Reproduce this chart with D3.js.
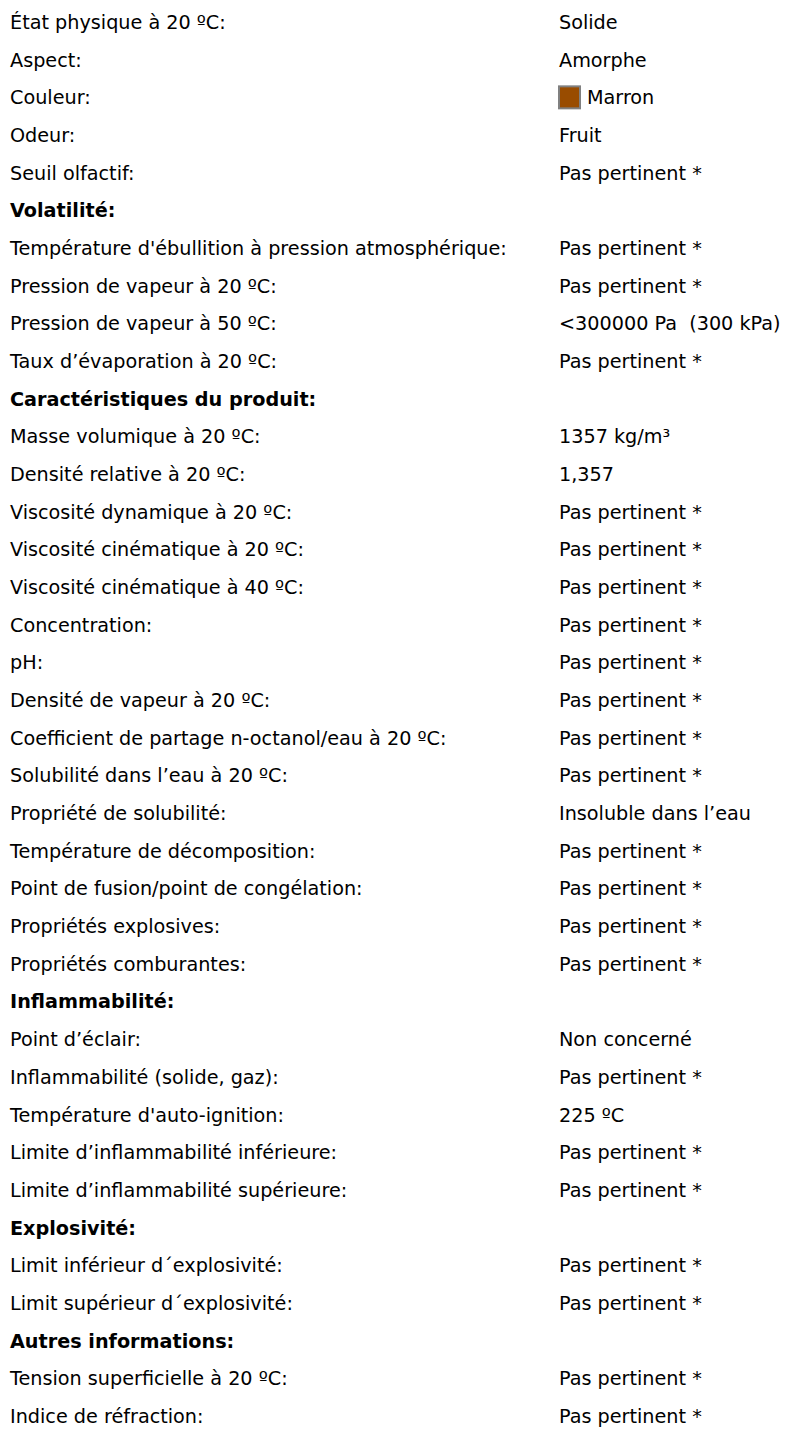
<!DOCTYPE html>
<html>
<head>
<meta charset="utf-8">
<script src="https://cdn.jsdelivr.net/npm/d3@7"></script>
<style>
  html, body { margin: 0; padding: 0; background: #fff; }
  svg { display: block; }
</style>
</head>
<body>
<svg id="chart" width="787" height="1434"></svg>
<script>
const labels = [
  "État physique à 20 ºC:",
  "Aspect:",
  "Couleur:",
  "Odeur:",
  "Seuil olfactif:",
  "Volatilité:",
  "Température d'ébullition à pression atmosphérique:",
  "Pression de vapeur à 20 ºC:",
  "Pression de vapeur à 50 ºC:",
  "Taux d’évaporation à 20 ºC:",
  "Caractéristiques du produit:",
  "Masse volumique à 20 ºC:",
  "Densité relative à 20 ºC:",
  "Viscosité dynamique à 20 ºC:",
  "Viscosité cinématique à 20 ºC:",
  "Viscosité cinématique à 40 ºC:",
  "Concentration:",
  "pH:",
  "Densité de vapeur à 20 ºC:",
  "Coefficient de partage n-octanol/eau à 20 ºC:",
  "Solubilité dans l’eau à 20 ºC:",
  "Propriété de solubilité:",
  "Température de décomposition:",
  "Point de fusion/point de congélation:",
  "Propriétés explosives:",
  "Propriétés comburantes:",
  "Inflammabilité:",
  "Point d’éclair:",
  "Inflammabilité (solide, gaz):",
  "Température d'auto-ignition:",
  "Limite d’inflammabilité inférieure:",
  "Limite d’inflammabilité supérieure:",
  "Explosivité:",
  "Limit inférieur d´explosivité:",
  "Limit supérieur d´explosivité:",
  "Autres informations:",
  "Tension superficielle à 20 ºC:",
  "Indice de réfraction:"
];
const values = [
  "Solide", "Amorphe", "Marron", "Fruit", "Pas pertinent *",
  "",
  "Pas pertinent *", "Pas pertinent *", "<300000 Pa  (300 kPa)", "Pas pertinent *",
  "",
  "1357 kg/m³", "1,357", "Pas pertinent *", "Pas pertinent *", "Pas pertinent *",
  "Pas pertinent *", "Pas pertinent *", "Pas pertinent *", "Pas pertinent *",
  "Pas pertinent *", "Insoluble dans l’eau", "Pas pertinent *", "Pas pertinent *",
  "Pas pertinent *", "Pas pertinent *",
  "",
  "Non concerné", "Pas pertinent *", "225 ºC", "Pas pertinent *", "Pas pertinent *",
  "",
  "Pas pertinent *", "Pas pertinent *",
  "",
  "Pas pertinent *", "Pas pertinent *"
];
const headers = ["Volatilité:", "Caractéristiques du produit:", "Inflammabilité:", "Explosivité:", "Autres informations:"];
const swatchColors = { "Marron": "#994c00" };

const svg = d3.select("#chart");
const fontFamily = "Tahoma, 'DejaVu Sans', sans-serif";

// Fit font size so the longest label matches the reference width (~497px)
const probe = svg.append("text").attr("font-family", fontFamily).attr("font-size", 16)
  .text("Température d'ébullition à pression atmosphérique:");
const w = probe.node().getComputedTextLength();
probe.remove();
const fontSize = 16 * 497 / w;

const y = d3.scalePoint().domain(d3.range(labels.length)).range([22, 1416]);
const labelX = 10, valueX = 559;

const rows = svg.selectAll("g.row").data(labels.map((l, i) => ({ label: l, value: values[i], i })))
  .join("g").attr("class", "row")
  .attr("transform", d => `translate(0,${y(d.i)})`);

rows.append("text")
  .attr("x", labelX).attr("dy", "0.36em")
  .attr("font-family", fontFamily).attr("font-size", fontSize)
  .attr("font-weight", d => headers.includes(d.label) ? "bold" : "normal")
  .attr("fill", "#000")
  .text(d => d.label);

rows.filter(d => swatchColors[d.value]).append("rect")
  .attr("x", valueX).attr("y", -11).attr("width", 21).attr("height", 22)
  .attr("fill", d => swatchColors[d.value]).attr("stroke", "#808080").attr("stroke-width", 2);

rows.append("text")
  .attr("x", d => swatchColors[d.value] ? valueX + 28 : valueX).attr("dy", "0.36em")
  .attr("font-family", fontFamily).attr("font-size", fontSize)
  .attr("fill", "#000")
  .attr("xml:space", "preserve").style("white-space", "pre")
  .text(d => d.value);
</script>
</body>
</html>
